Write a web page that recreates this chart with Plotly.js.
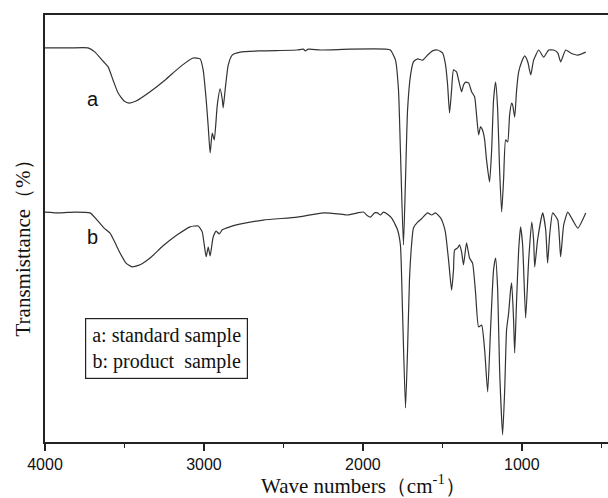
<!DOCTYPE html>
<html>
<head>
<meta charset="utf-8">
<script src="https://cdn.plot.ly/plotly-3.0.1.min.js"></script>
<style>html,body{margin:0;padding:0;background:#fff;}#chart{width:608px;height:498px;}</style>
</head>
<body>
<div id="chart"></div>
<script>
// Spectrum a: standard sample
const wavenumbersA = [4000,3842,3729,3685,3641,3603,3572,3540,3502,3471,3427,3339,3244,3150,3068,3024,3005,2986,2973,2961,2948,2935,2916,2898,2885,2879,2866,2847,2822,2772,2646,2413,2375,2362,2343,2268,2079,1858,1827,1795,1776,1764,1745,1732,1719,1700,1682,1656,1625,1593,1562,1530,1499,1480,1467,1455,1442,1430,1411,1398,1379,1367,1354,1335,1316,1297,1285,1272,1260,1247,1234,1222,1203,1190,1178,1165,1152,1140,1127,1115,1102,1089,1077,1064,1058,1045,1033,1020,1001,982,963,944,926,894,863,831,800,774,756,724,693,648,598];
const transmittanceA = [92.2,92.2,92.2,91.2,89.3,87.7,84.6,81.5,79.6,79.1,79.6,81.8,84.6,87.7,89.8,89.6,87.0,79.9,73.5,67.3,72.0,70.4,78.7,82.5,80.1,78.0,82.5,88.2,90.5,91.2,91.5,91.7,91.9,91.5,91.9,91.7,91.9,91.9,91.7,89.3,82.2,68.0,45.5,60.9,77.5,85.8,88.9,89.6,89.3,90.5,91.5,91.7,91.0,88.2,83.4,76.8,82.2,87.0,86.5,84.6,81.8,83.4,84.1,83.9,81.8,80.6,76.3,71.6,73.5,72.7,70.4,65.6,60.4,68.0,79.9,84.1,77.5,63.3,53.3,60.9,70.4,69.9,76.3,79.1,78.7,75.8,82.2,86.5,88.9,90.3,88.9,85.8,89.3,91.7,90.0,91.7,91.7,91.0,88.9,91.7,91.0,90.5,91.2];
// Spectrum b: product sample
const wavenumbersB = [4000,3906,3811,3717,3672,3628,3591,3559,3528,3490,3452,3402,3339,3257,3168,3087,3036,3011,2998,2986,2973,2961,2942,2923,2904,2885,2860,2803,2627,2413,2249,2141,2097,2034,1997,1971,1952,1927,1908,1890,1871,1845,1820,1795,1782,1764,1751,1732,1719,1707,1694,1682,1656,1631,1593,1568,1543,1511,1492,1480,1461,1442,1430,1423,1404,1392,1379,1367,1348,1329,1310,1291,1272,1253,1234,1215,1197,1178,1165,1152,1140,1121,1108,1096,1083,1071,1064,1052,1045,1033,1020,1008,995,976,957,938,926,919,901,869,850,838,825,806,774,756,737,711,680,648,598];
const transmittanceB = [53.3,53.1,53.3,53.1,51.4,49.5,48.3,46.0,43.6,41.2,40.3,40.8,42.4,45.3,47.9,49.8,50.0,48.6,45.5,42.7,45.0,42.9,47.4,48.8,48.1,49.1,49.5,50.2,51.4,52.1,53.1,52.8,52.6,53.1,53.3,52.4,52.1,53.1,53.1,52.6,53.3,52.8,51.9,50.2,49.1,45.5,30.1,6.9,20.6,37.2,45.5,49.5,50.9,51.7,53.1,52.6,53.1,51.9,50.2,48.3,41.9,34.8,39.6,44.3,44.8,45.5,43.8,40.8,46.0,42.4,41.2,34.1,26.1,26.5,20.6,10.7,25.4,39.6,42.4,34.8,15.9,0.5,11.1,25.4,29.4,34.8,36.5,27.7,19.9,32.5,44.3,49.8,45.5,28.2,41.9,50.9,46.7,40.3,46.7,53.1,49.1,41.2,47.9,53.1,51.4,42.7,50.2,53.3,51.4,49.5,53.1];
const majorTicks = [4000,3000,2000,1000];
const minorTicks = [3500,2500,1500,500];
const curveLabels = ['a','b'];
const legendLines = ['a: standard sample','b: product\u00A0 sample'];
const xTitle = 'Wave numbers\uFF08cm<sup>-1</sup>\uFF09';
const yTitle = 'Transmisttance\uFF08%\uFF09';

const lineStyle = {color:'#333', width:1.2, shape:'spline', smoothing:0.5};
const traces = [
  {x:wavenumbersA, y:transmittanceA, mode:'lines', line:lineStyle, hoverinfo:'skip', showlegend:false},
  {x:wavenumbersB, y:transmittanceB, mode:'lines', line:lineStyle, hoverinfo:'skip', showlegend:false}
];
const serif = 'Liberation Serif, Times New Roman, serif';
const sans = 'Liberation Sans, Arial, sans-serif';
const layout = {
  width:608, height:498,
  margin:{l:45, r:0, t:15, b:56, pad:0},
  paper_bgcolor:'#fff', plot_bgcolor:'#fff',
  showlegend:false,
  xaxis:{
    range:[4000,458], autorange:false,
    showgrid:false, zeroline:false,
    showline:true, mirror:true, linecolor:'#222', linewidth:2,
    ticks:'outside', ticklen:7, tickwidth:1.5, tickcolor:'#222',
    tickmode:'array', tickvals:majorTicks, ticktext:majorTicks.map(String),
    tickfont:{family:sans, size:16, color:'#111'},
    minor:{tickmode:'array', tickvals:minorTicks, ticks:'outside', ticklen:4, tickwidth:1.5, tickcolor:'#222', showgrid:false}
  },
  yaxis:{
    range:[-1.2,100], autorange:false,
    showgrid:false, zeroline:false,
    showline:true, mirror:false, linecolor:'#222', linewidth:2,
    ticks:'', showticklabels:false
  },
  annotations:[
    {text:curveLabels[0], xref:'paper', yref:'paper', x:0.071, y:0.834, showarrow:false, font:{family:sans, size:20, color:'#111'}},
    {text:curveLabels[1], xref:'paper', yref:'paper', x:0.071, y:0.480, showarrow:false, font:{family:sans, size:20, color:'#111'}},
    {text:legendLines.join('<br>'), xref:'paper', yref:'paper', x:0.216, y:0.218, xanchor:'center', yanchor:'middle',
     showarrow:false, align:'center', width:159, height:57, borderpad:1, borderwidth:1.2, bordercolor:'#222', bgcolor:'#fff',
     font:{family:serif, size:20, color:'#111'}},
    {text:xTitle, xref:'paper', yref:'paper', x:0.565, y:-0.099, xanchor:'center', yanchor:'middle', showarrow:false,
     font:{family:serif, size:21, color:'#111'}},
    {text:yTitle, xref:'paper', yref:'paper', x:-0.039, y:0.465, xanchor:'center', yanchor:'middle', textangle:-90, showarrow:false,
     font:{family:serif, size:21, color:'#111'}}
  ]
};
Plotly.newPlot('chart', traces, layout, {staticPlot:true, displayModeBar:false});
</script>
</body>
</html>
